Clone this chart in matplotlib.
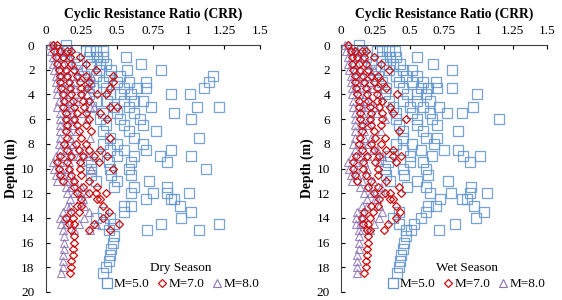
import matplotlib
matplotlib.use("Agg")
import matplotlib.pyplot as plt
from matplotlib.lines import Line2D

plt.rcParams['font.family'] = ['Liberation Serif', 'DejaVu Serif']

depths = [0.0, 0.5, 1.0, 1.5, 2.0, 2.5, 3.0, 3.5, 4.0, 4.5, 5.0, 5.5, 6.0, 6.5,
          7.0, 7.5, 8.0, 8.5, 9.0, 9.5, 10.0, 10.5, 11.0, 11.5, 12.0, 12.5,
          13.0, 13.5, 14.0, 14.5, 15.0, 15.5, 16.0, 16.5, 17.0, 17.5, 18.0, 18.5]

dry_m5 = [[0.14], [0.15, 0.28, 0.31, 0.35, 0.40], [0.20, 0.30, 0.36, 0.40, 0.56],
          [0.22, 0.32, 0.38, 0.42, 0.67], [0.25, 0.37, 0.46, 0.57, 0.81],
          [0.27, 0.35, 0.44, 0.52, 1.17], [0.30, 0.40, 0.50, 0.58, 0.70, 1.14],
          [0.33, 0.42, 0.55, 0.64, 0.70, 1.11], [0.30, 0.45, 0.52, 0.60, 0.88, 1.01],
          [0.35, 0.43, 0.55, 0.62, 0.68], [0.32, 0.48, 0.58, 0.74, 1.06, 1.21],
          [0.40, 0.50, 0.62, 0.90], [0.38, 0.52, 0.66, 1.02], [0.42, 0.55, 0.68],
          [0.40, 0.58, 0.77], [0.45, 0.62, 1.07], [0.40, 0.50, 0.68],
          [0.45, 0.55, 0.70, 0.88], [0.36, 0.50, 0.62, 0.80, 1.02],
          [0.32, 0.44, 0.60, 0.85], [0.32, 0.45, 0.58, 1.12], [0.32, 0.46, 0.60],
          [0.35, 0.50, 0.72], [0.48, 0.62, 0.85], [0.60, 0.75, 0.85, 1.00],
          [0.70, 0.88, 0.90], [0.55, 0.60, 0.94], [0.40, 0.55, 1.02],
          [0.35, 0.45, 0.95], [0.40, 0.48, 0.81, 1.21], [0.44, 0.71, 1.07],
          [0.48], [0.47], [0.46], [0.45], [0.44], [0.42], [0.40]]

dry_m7 = [[0.05, 0.08], [0.06, 0.10, 0.15, 0.18], [0.07, 0.12, 0.17, 0.24],
          [0.08, 0.13, 0.18, 0.28], [0.09, 0.14, 0.20, 0.35],
          [0.10, 0.15, 0.22, 0.28, 0.47], [0.10, 0.16, 0.24, 0.30, 0.47],
          [0.11, 0.17, 0.25, 0.29, 0.45], [0.12, 0.18, 0.25, 0.36, 0.42],
          [0.13, 0.19, 0.26, 0.30], [0.12, 0.20, 0.27, 0.45, 0.50],
          [0.14, 0.22, 0.28, 0.38], [0.14, 0.20, 0.30, 0.43], [0.15, 0.22, 0.28],
          [0.14, 0.23, 0.32], [0.15, 0.25, 0.45], [0.13, 0.21, 0.28],
          [0.15, 0.23, 0.30, 0.38], [0.10, 0.18, 0.26, 0.34, 0.43],
          [0.08, 0.15, 0.24, 0.37], [0.09, 0.16, 0.24, 0.47], [0.10, 0.18, 0.25],
          [0.12, 0.20, 0.30], [0.20, 0.26, 0.36], [0.22, 0.30, 0.35, 0.42],
          [0.25, 0.36, 0.38], [0.22, 0.25, 0.40], [0.18, 0.23, 0.44],
          [0.14, 0.19, 0.40], [0.16, 0.20, 0.34, 0.51], [0.18, 0.30, 0.45],
          [0.20], [0.20], [0.19], [0.19], [0.18], [0.18], [0.17]]

dry_m8 = [[0.03, 0.05], [0.04, 0.07, 0.10, 0.12], [0.05, 0.08, 0.12, 0.16],
          [0.05, 0.09, 0.12, 0.19], [0.06, 0.10, 0.14, 0.24],
          [0.07, 0.10, 0.15, 0.19, 0.32], [0.07, 0.11, 0.16, 0.20, 0.32],
          [0.08, 0.12, 0.17, 0.20, 0.31], [0.08, 0.12, 0.17, 0.25, 0.29],
          [0.09, 0.13, 0.18, 0.21], [0.08, 0.14, 0.18, 0.31, 0.34],
          [0.10, 0.15, 0.19, 0.26], [0.10, 0.14, 0.20, 0.29], [0.10, 0.15, 0.19],
          [0.10, 0.16, 0.22], [0.10, 0.17, 0.31], [0.09, 0.14, 0.19],
          [0.10, 0.16, 0.20, 0.26], [0.07, 0.12, 0.18, 0.23, 0.29],
          [0.05, 0.10, 0.16, 0.25], [0.06, 0.11, 0.16, 0.32], [0.07, 0.12, 0.17],
          [0.08, 0.14, 0.20], [0.14, 0.18, 0.25], [0.15, 0.20, 0.24, 0.29],
          [0.17, 0.24, 0.26], [0.15, 0.17, 0.27], [0.12, 0.16, 0.30],
          [0.10, 0.13, 0.27], [0.11, 0.14, 0.23, 0.35], [0.12, 0.20, 0.31],
          [0.13], [0.13], [0.13], [0.12], [0.12], [0.12], [0.11]]

wet_m5 = [[0.13], [0.15, 0.26, 0.30, 0.35, 0.39], [0.18, 0.30, 0.36, 0.40, 0.55],
          [0.22, 0.33, 0.38, 0.43, 0.67], [0.25, 0.35, 0.45, 0.52, 0.81],
          [0.27, 0.40, 0.47, 0.55], [0.30, 0.42, 0.52, 0.60, 0.69],
          [0.33, 0.45, 0.58, 0.63, 0.70, 0.81], [0.32, 0.48, 0.55, 0.62, 0.99],
          [0.35, 0.45, 0.55, 0.65], [0.38, 0.50, 0.60, 0.71, 0.96],
          [0.40, 0.52, 0.65, 0.77, 0.88], [0.40, 0.55, 0.66, 1.15],
          [0.42, 0.55, 0.70], [0.45, 0.60, 0.85], [0.45, 0.62, 0.70],
          [0.40, 0.52, 0.68], [0.45, 0.58, 0.75, 0.85],
          [0.36, 0.50, 0.66, 0.89, 1.01], [0.34, 0.50, 0.60, 0.94],
          [0.32, 0.45, 0.62], [0.33, 0.46, 0.63], [0.36, 0.55, 0.78],
          [0.48, 0.62, 0.95], [0.65, 0.80, 0.94, 1.06], [0.72, 0.88, 0.92],
          [0.63, 0.69, 0.97], [0.42, 0.62, 1.04], [0.38, 0.58, 0.98],
          [0.42, 0.53, 0.83], [0.47, 0.51, 0.71],
          [0.47], [0.46], [0.45], [0.44], [0.43], [0.42], [0.41]]

wet_m7 = [[0.05], [0.07, 0.10, 0.15, 0.18], [0.08, 0.12, 0.17, 0.24],
          [0.08, 0.13, 0.18, 0.29], [0.09, 0.14, 0.20, 0.35],
          [0.10, 0.16, 0.22, 0.27], [0.10, 0.17, 0.24, 0.30],
          [0.11, 0.18, 0.26, 0.33], [0.12, 0.19, 0.26, 0.41],
          [0.13, 0.20, 0.26, 0.30], [0.13, 0.21, 0.28, 0.36],
          [0.14, 0.22, 0.30, 0.38], [0.14, 0.21, 0.30, 0.47], [0.15, 0.22, 0.29],
          [0.15, 0.24, 0.42], [0.14, 0.25, 0.32], [0.13, 0.22, 0.29],
          [0.15, 0.24, 0.33, 0.38], [0.11, 0.19, 0.28, 0.38, 0.44],
          [0.09, 0.16, 0.25, 0.40], [0.09, 0.16, 0.27], [0.10, 0.18, 0.27],
          [0.12, 0.22, 0.33], [0.20, 0.27, 0.42], [0.24, 0.32, 0.36, 0.44],
          [0.28, 0.36, 0.38], [0.22, 0.27, 0.40], [0.17, 0.23, 0.43],
          [0.15, 0.21, 0.40], [0.16, 0.20, 0.34], [0.19, 0.21, 0.31],
          [0.20], [0.20], [0.19], [0.19], [0.18], [0.18], [0.17]]

wet_m8 = [[0.03, 0.05], [0.04, 0.07, 0.10, 0.12], [0.05, 0.08, 0.12, 0.16],
          [0.05, 0.09, 0.12, 0.20], [0.06, 0.10, 0.14, 0.24],
          [0.07, 0.11, 0.15, 0.19], [0.07, 0.12, 0.17, 0.21],
          [0.08, 0.12, 0.18, 0.23], [0.08, 0.13, 0.18, 0.28],
          [0.09, 0.14, 0.18, 0.21], [0.09, 0.15, 0.19, 0.25],
          [0.10, 0.15, 0.21, 0.26], [0.10, 0.15, 0.21, 0.32], [0.10, 0.15, 0.20],
          [0.10, 0.17, 0.29], [0.10, 0.17, 0.22], [0.09, 0.15, 0.20],
          [0.10, 0.17, 0.23, 0.26], [0.08, 0.13, 0.19, 0.26, 0.30],
          [0.05, 0.11, 0.17, 0.28], [0.06, 0.11, 0.19], [0.07, 0.12, 0.19],
          [0.08, 0.15, 0.23], [0.14, 0.19, 0.29], [0.17, 0.22, 0.25, 0.30],
          [0.19, 0.25, 0.26], [0.15, 0.19, 0.28], [0.12, 0.16, 0.30],
          [0.11, 0.15, 0.28], [0.11, 0.14, 0.24], [0.13, 0.15, 0.21],
          [0.13], [0.13], [0.13], [0.12], [0.12], [0.12], [0.12]]

x_ticks = [0, 0.25, 0.5, 0.75, 1, 1.25, 1.5]
x_tick_labels = ["0", "0.25", "0.5", "0.75", "1", "1.25", "1.5"]
y_ticks = [0, 2, 4, 6, 8, 10, 12, 14, 16, 18, 20]
labels = ["M=5.0", "M=7.0", "M=8.0"]
season_titles = ["Dry Season", "Wet Season"]

c5 = '#5F93CF'
c7 = '#CC1010'
c8 = '#8C72B4'


def expand(rows):
    ds, vs = [], []
    for d, row in zip(depths, rows):
        for v in row:
            ds.append(d)
            vs.append(v)
    return vs, ds


fig = plt.figure(figsize=(5.62, 3.0), dpi=100)
axes_pos = [[45.7 / 562, 8 / 300, (260 - 45.7) / 562, 247 / 300],
            [341 / 562, 8 / 300, (547 - 341) / 562, 247 / 300]]

sq = dict(marker='s', ms=7.2, mfc='none', mec=c5, mew=0.9)
dm = dict(marker='D', ms=4.4, mfc='none', mec=c7, mew=0.9)
tr = dict(marker='^', ms=6.0, mfc='none', mec=c8, mew=0.8)

for pos, data, title in zip(axes_pos, [(dry_m5, dry_m7, dry_m8), (wet_m5, wet_m7, wet_m8)],
                            season_titles):
    ax = fig.add_axes(pos)
    m5, m7, m8 = data
    x, y = expand(m5)
    ax.plot(x, y, ls='none', alpha=0.85, zorder=2, clip_on=False, **sq)
    x, y = expand(m8)
    ax.plot(x, y, ls='none', alpha=0.85, zorder=3, clip_on=False, **tr)
    x, y = expand(m7)
    ax.plot(x, y, ls='none', zorder=4, clip_on=False, **dm)

    ax.set_xlim(0, 1.5)
    ax.set_ylim(20, 0)
    ax.xaxis.tick_top()
    ax.xaxis.set_label_position('top')
    ax.set_xticks(x_ticks)
    ax.set_xticklabels(x_tick_labels)
    ax.set_yticks(y_ticks)
    ax.tick_params(axis='both', direction='in', length=3, width=0.8,
                   labelsize=9.5, colors='black')
    ax.tick_params(axis='x', pad=6)
    ax.tick_params(axis='y', pad=8)
    for s in ['right', 'bottom']:
        ax.spines[s].set_visible(False)
    for s in ['left', 'top']:
        ax.spines[s].set_linewidth(0.8)
        ax.spines[s].set_color('#404040')
    ax.set_xlabel("Cyclic Resistance Ratio (CRR)", fontsize=9.8, fontweight='bold',
                  labelpad=5)
    ax.set_ylabel("Depth (m)", fontsize=9.8, fontweight='bold', labelpad=2)

    handles = [Line2D([], [], ls='none', **sq),
               Line2D([], [], ls='none', **dm),
               Line2D([], [], ls='none', **tr)]
    leg = ax.legend(handles, labels, title=title, ncol=3, frameon=False,
                    loc='lower right', bbox_to_anchor=(1.02, -0.015),
                    fontsize=9.5, title_fontsize=9.5, handlelength=0.7,
                    handletextpad=0.15, columnspacing=0.6, borderaxespad=0.0,
                    labelspacing=0.2)
    leg._legend_box.align = 'center'
    leg._legend_box.sep = 3

fig.savefig('out.png', dpi=100)
